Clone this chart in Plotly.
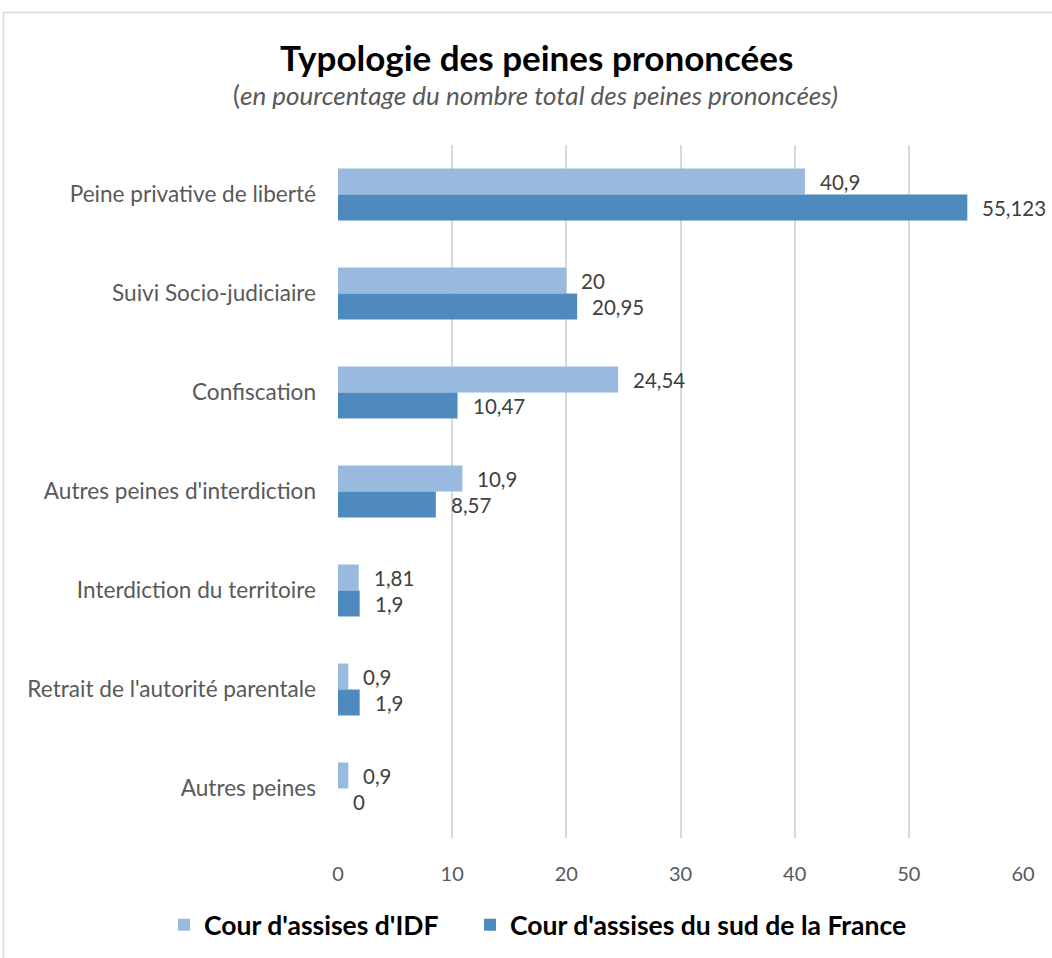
import plotly.graph_objects as go

# Data
categories = [
    "Peine privative de liberté",
    "Suivi Socio-judiciaire",
    "Confiscation",
    "Autres peines d'interdiction",
    "Interdiction du territoire",
    "Retrait de l'autorité parentale",
    "Autres peines",
]
series_names = ["Cour d'assises d'IDF", "Cour d'assises du sud de la France"]
idf_values = [40.9, 20, 24.54, 10.9, 1.81, 0.9, 0.9]
sud_values = [55.123, 20.95, 10.47, 8.57, 1.9, 1.9, 0]
x_ticks = [0, 10, 20, 30, 40, 50, 60]

colors = ["#99BADF", "#4F8ABE"]
FONT = "Lato"
GREY = "#595959"


def fr(v):
    return f"{v:g}".replace(".", ",")


fig = go.Figure()
for name, vals, col, leg in zip(series_names, [idf_values, sud_values], colors,
                                ["legend", "legend2"]):
    fig.add_trace(go.Bar(
        y=categories, x=vals, name=name, orientation="h",
        marker=dict(color=col, line=dict(width=0)),
        hoverinfo="x+y", legend=leg,
    ))

# Value labels next to each bar
annotations = []
for vals, shift in [(idf_values, 13), (sud_values, -13)]:
    for cat, v in zip(categories, vals):
        annotations.append(dict(
            x=v, y=cat, xref="x", yref="y", text=fr(v), showarrow=False,
            xanchor="left", yanchor="middle", xshift=13, yshift=shift,
            font=dict(family=FONT, size=20.5, color="#404040"),
        ))

annotations.append(dict(
    x=0.29, y=1.0, xref="paper", yref="paper", xanchor="center", yanchor="middle",
    text="<b>Typologie des peines prononcées</b>", showarrow=False,
    yshift=(838 - 57) - 693, font=dict(family=FONT, size=35, color="#000000"),
))
annotations.append(dict(
    x=0.288, y=1.0, xref="paper", yref="paper", xanchor="center", yanchor="middle",
    text="(<i>en pourcentage du nombre total des peines prononcées)</i>",
    showarrow=False, yshift=(838 - 95) - 693,
    font=dict(family=FONT, size=26, color=GREY),
))

legend_style = dict(
    orientation="h", xanchor="left", yref="container", y=1 - 925 / 958,
    yanchor="middle",
    font=dict(family=FONT, size=26.5, color="#000000", weight="bold"),
    itemwidth=30, bgcolor="rgba(0,0,0,0)",
)

fig.update_layout(
    width=1052, height=958,
    margin=dict(l=338, r=29, t=145, b=120, autoexpand=False),
    paper_bgcolor="white", plot_bgcolor="white",
    barmode="group", bargap=0.475, bargroupgap=0,
    showlegend=True,
    legend=dict(x=(164 - 338) / 685, **legend_style),
    legend2=dict(x=(470 - 338) / 685, **legend_style),
    xaxis=dict(
        range=[0, 60], tickvals=x_ticks, ticktext=[str(t) for t in x_ticks],
        showgrid=True, gridcolor="#D9D9D9", gridwidth=2,
        zeroline=False, showline=False, ticks="",
        tickfont=dict(family=FONT, size=20, color=GREY),
        ticklabelstandoff=22, automargin=False,
    ),
    yaxis=dict(
        autorange="reversed", showgrid=False, showline=False, ticks="",
        tickfont=dict(family=FONT, size=22.6, color=GREY),
        ticklabelstandoff=21, automargin=False,
    ),
    annotations=annotations,
    shapes=[dict(
        type="rect", xref="paper", yref="paper",
        x0=(3.5 - 338) / 685, x1=(1070 - 338) / 685,
        y0=(838 - 975) / 693, y1=(838 - 12.5) / 693,
        line=dict(color="#D9D9D9", width=1.5), fillcolor="rgba(0,0,0,0)",
        layer="below",
    )],
    font=dict(family=FONT),
)

fig.write_html("out.html")
